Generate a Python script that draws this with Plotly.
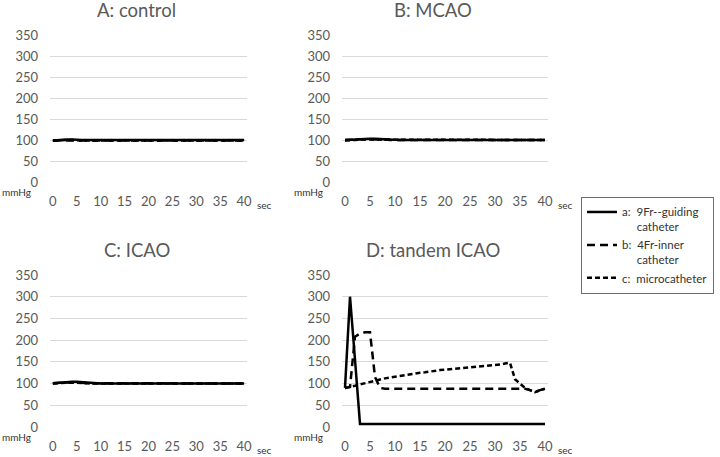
import plotly.graph_objects as go

# time in seconds
t = list(range(41))

# A: control
a_ctrl = [99, 100, 101, 101, 101, 100, 100, 100, 100, 100, 100, 100, 100, 100, 100, 100, 100, 100, 100, 100, 100,
          100, 100, 100, 100, 100, 100, 100, 100, 100, 100, 100, 100, 100, 100, 100, 100, 100, 100, 100, 100]
b_ctrl = [99, 99, 100, 100, 100, 100, 99, 99, 99, 99, 99, 99, 99, 99, 99, 99, 99, 99, 99, 99, 99,
          99, 99, 99, 99, 99, 99, 99, 99, 99, 99, 99, 99, 99, 99, 99, 99, 99, 99, 99, 99]
c_ctrl = [98, 99, 100, 100, 100, 99, 99, 99, 99, 99, 99, 99, 99, 99, 99, 99, 99, 99, 99, 99, 99,
          99, 99, 99, 99, 99, 99, 99, 99, 99, 99, 99, 99, 99, 99, 99, 99, 99, 99, 99, 99]

# B: MCAO
a_mcao = [100, 100, 101, 102, 103, 103, 103, 103, 102, 101, 100, 100, 100, 100, 100, 100, 100, 100, 100, 100, 100,
          100, 100, 100, 100, 100, 100, 100, 100, 100, 100, 100, 100, 100, 100, 100, 100, 100, 100, 100, 100]
b_mcao = [100, 100, 101, 102, 102, 102, 102, 102, 101, 100, 100, 100, 100, 100, 100, 100, 100, 100, 100, 100, 100,
          100, 100, 100, 100, 100, 100, 100, 100, 100, 100, 100, 100, 100, 100, 100, 100, 100, 100, 100, 100]
c_mcao = [99, 99, 100, 101, 101, 101, 101, 101, 100, 100, 100, 100, 100, 100, 100, 100, 100, 100, 100, 100, 100,
          100, 100, 100, 100, 100, 100, 100, 100, 100, 100, 100, 100, 100, 100, 100, 100, 100, 100, 100, 100]

# C: ICAO
a_icao = [101, 102, 103, 104, 104, 104, 103, 102, 101, 100, 100, 100, 100, 100, 100, 100, 100, 100, 100, 100, 100,
          100, 100, 100, 100, 100, 100, 100, 100, 100, 100, 100, 100, 100, 100, 100, 100, 100, 100, 100, 100]
b_icao = [101, 101, 102, 103, 103, 103, 102, 101, 101, 100, 100, 100, 100, 100, 100, 100, 100, 100, 100, 100, 100,
          100, 100, 100, 100, 100, 100, 100, 100, 100, 100, 100, 100, 100, 100, 100, 100, 100, 100, 100, 100]
c_icao = [100, 101, 102, 102, 102, 102, 101, 101, 100, 100, 100, 100, 100, 100, 100, 100, 100, 100, 100, 100, 100,
          100, 100, 100, 100, 100, 100, 100, 100, 100, 100, 100, 100, 100, 100, 100, 100, 100, 100, 100, 100]

# D: tandem ICAO
a_tandem = [90, 300, 155, 7, 7, 7, 7, 7, 7, 7, 7, 7, 7, 7, 7, 7, 7, 7, 7, 7, 7,
            7, 7, 7, 7, 7, 7, 7, 7, 7, 7, 7, 7, 7, 7, 7, 7, 7, 7, 7, 7]
b_tandem = [90, 92, 208, 215, 218, 218, 115, 90, 88, 88, 88, 88, 88, 88, 88, 88, 88, 88, 88, 88, 88,
            88, 88, 88, 88, 88, 88, 88, 88, 88, 88, 88, 88, 88, 88, 88, 88, 85, 80, 85, 88]
c_tandem = [90, 92, 95, 98, 101, 104, 107, 110, 112, 114, 116, 118, 120, 121, 123, 125, 126, 128, 129, 131, 132,
            133, 134, 135, 136, 137, 138, 139, 140, 141, 142, 144, 146, 148, 110, 100, 90, 85, 80, 85, 88]

series_names = ["a:  9Fr--guiding<br>     catheter", "b:  4Fr-inner<br>     catheter", "c:  microcatheter"]
titles = ["A: control", "B: MCAO", "C: ICAO", "D: tandem ICAO"]
y_ticks = [0, 50, 100, 150, 200, 250, 300, 350]
x_ticks = [0, 5, 10, 15, 20, 25, 30, 35, 40]

W, H = 720, 457
panels = [
    (titles[0], [a_ctrl, b_ctrl, c_ctrl], (50, 247), (35, 182)),
    (titles[1], [a_mcao, b_mcao, c_mcao], (342, 548), (35, 182)),
    (titles[2], [a_icao, b_icao, c_icao], (50, 247), (275, 427)),
    (titles[3], [a_tandem, b_tandem, c_tandem], (342, 548), (275, 427)),
]
dashes = ["solid", "8px,5px", "5px,3px"]

font_fam = "Lato, 'Open Sans', sans-serif"
fig = go.Figure()
layout = {}
annotations = []
for i, (title, series, (x0, x1), (y0, y1)) in enumerate(panels):
    k = "" if i == 0 else str(i + 1)
    for j, ys in enumerate(series):
        fig.add_trace(go.Scatter(
            x=t, y=ys, mode="lines", xaxis="x" + k, yaxis="y" + k,
            name=series_names[j], showlegend=(i == 3),
            line=dict(color="black", width=2.5, dash=dashes[j]),
        ))
    layout["xaxis" + k] = dict(
        domain=[x0 / W, x1 / W], range=[-0.6, 40.6], anchor="y" + k,
        tickvals=x_ticks, showgrid=False, zeroline=False, showline=False,
        ticks="", ticklabelstandoff=10, automargin=False,
        tickfont=dict(size=13, color="#595959", family=font_fam),
    )
    layout["yaxis" + k] = dict(
        domain=[1 - y1 / H, 1 - y0 / H], range=[0, 350], anchor="x" + k,
        tickvals=y_ticks, showgrid=True, gridcolor="#d9d9d9", gridwidth=1,
        zeroline=False, showline=False, ticks="", ticklabelstandoff=11,
        automargin=False,
        tickfont=dict(size=13, color="#595959", family=font_fam),
    )
    xc = (x0 + x1) / 2 - 12
    annotations.append(dict(
        text=title, x=xc / W, y=1 - (y0 - 25) / H, xref="paper", yref="paper",
        xanchor="center", yanchor="middle", showarrow=False,
        font=dict(size=18.5, color="#595959", family=font_fam),
    ))
    annotations.append(dict(
        text="mmHg", x=(x0 - 34) / W, y=1 - (y1 + 10) / H, xref="paper", yref="paper",
        xanchor="center", yanchor="middle", showarrow=False,
        font=dict(size=10, color="#333333", family=font_fam),
    ))
    annotations.append(dict(
        text="sec", x=(x1 + 17) / W, y=1 - (y1 + 23) / H, xref="paper", yref="paper",
        xanchor="center", yanchor="middle", showarrow=False,
        font=dict(size=10, color="#333333", family=font_fam),
    ))

fig.update_layout(
    width=W, height=H,
    margin=dict(l=0, r=0, t=0, b=0, autoexpand=False),
    paper_bgcolor="white", plot_bgcolor="white",
    annotations=annotations,
    legend=dict(
        x=581 / W, y=1 - 197 / H, xanchor="left", yanchor="top",
        bordercolor="#4472C4", borderwidth=1, bgcolor="white",
        font=dict(size=11.5, color="#333333", family=font_fam),
        valign="top", itemwidth=30, tracegroupgap=0,
    ),
    **layout,
)

fig.write_html("out.html", config={"displayModeBar": False},
               post_script="document.body.style.margin='0';")
